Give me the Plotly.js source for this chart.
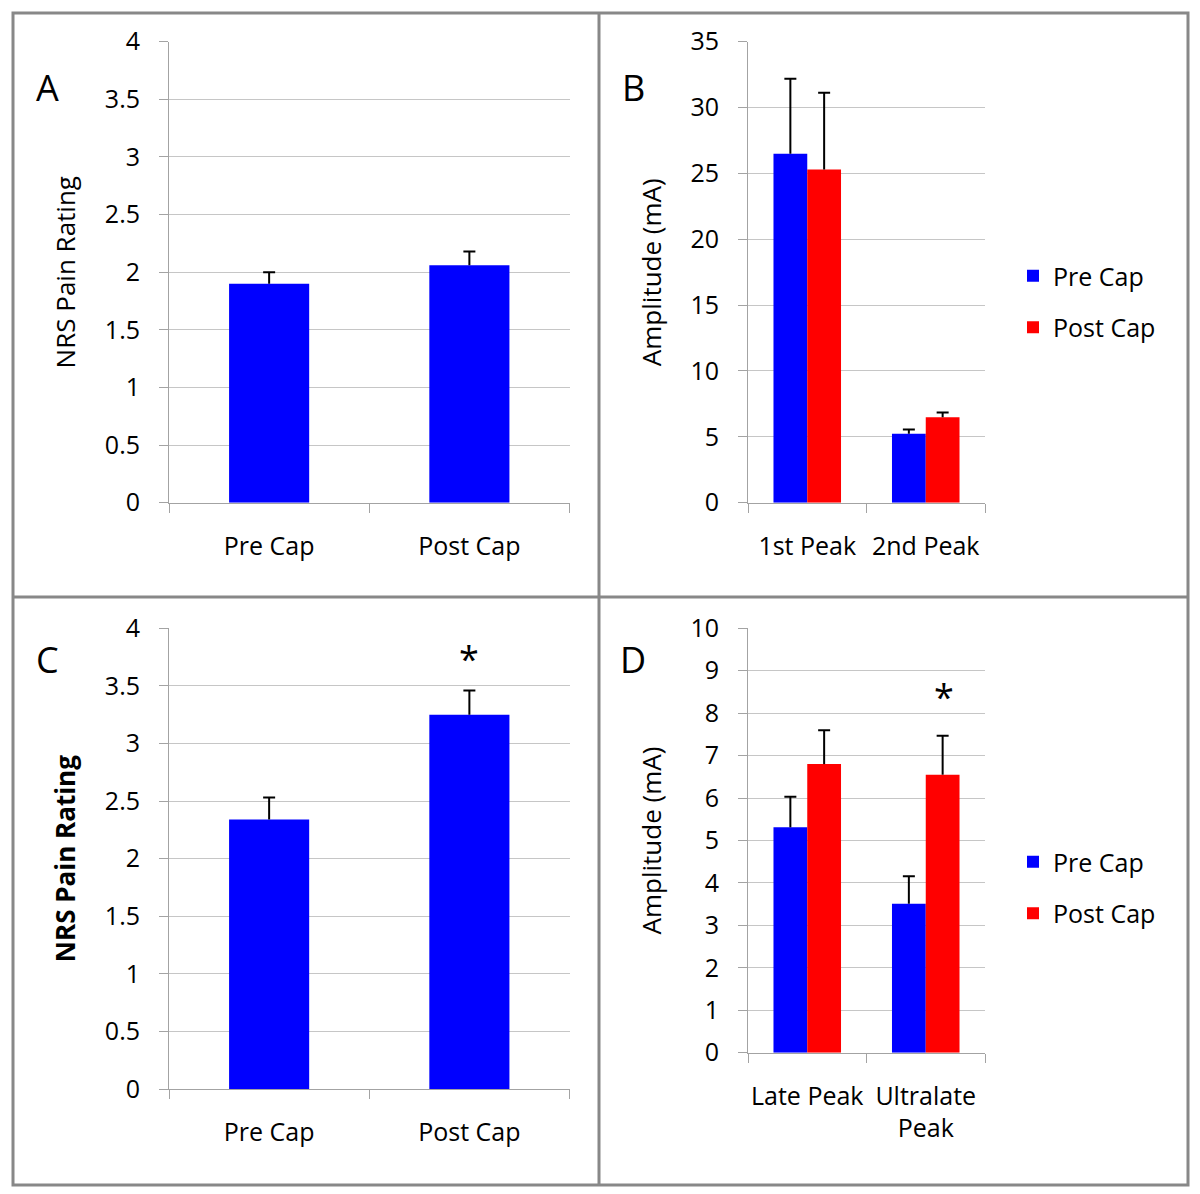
<!DOCTYPE html>
<html>
<head>
<meta charset="utf-8">
<script src="https://cdn.plot.ly/plotly-3.0.1.min.js"></script>
<style>
  html, body { margin: 0; padding: 0; background: #fff; }
  #chart { width: 1200px; height: 1194px; }
</style>
</head>
<body>
<div id="chart"></div>
<script>
// categories
var nrsCats = ["Pre Cap", "Post Cap"];
var earlyCats = ["1st Peak", "2nd Peak"];
var lateCats = ["Late Peak", "Ultralate<br>Peak"];

// A: NRS pain rating (mean, upper error)
var aMean = [1.90, 2.06];
var aErr = [0.10, 0.12];

// B: amplitude of 1st / 2nd peak
var bPre = [26.5, 5.24];
var bPreErr = [5.68, 0.32];
var bPost = [25.3, 6.49];
var bPostErr = [5.82, 0.35];

// C: NRS pain rating
var cMean = [2.34, 3.25];
var cErr = [0.19, 0.21];

// D: amplitude of late / ultralate peak
var dPre = [5.31, 3.51];
var dPreErr = [0.72, 0.65];
var dPost = [6.80, 6.55];
var dPostErr = [0.80, 0.92];

// significance marks
var cStar = 3.79;
var dStar = 8.54;

var BLUE = "#0000ff", RED = "#ff0000", GRID = "#c6c6c6", AXIS = "#a3a3a3";
var FONT = "Open Sans, sans-serif";

function fx(p) { return p / 1200; }
function fy(p) { return 1 - p / 1194; }

// bar with a plain stem going up, no caps (excel-style one sided error bar)
function bar(x, y, err, color, xa, ya, group, extra) {
  var t = {
    type: "bar", x: x, y: y, xaxis: xa, yaxis: ya, offsetgroup: group,
    marker: {color: color},
    error_y: {type: "data", symmetric: false, array: err,
              arrayminus: err.map(function () { return 0; }),
              color: "#000", thickness: 2, width: 0},
    showlegend: false
  };
  return Object.assign(t, extra || {});
}

// invisible bar at the top of the error range, only used to draw the cap
function cap(x, y, err, xa, ya, group, width) {
  var top = y.map(function (v, i) { return v + err[i]; });
  var t = {
    type: "bar", x: x, y: top, xaxis: xa, yaxis: ya, offsetgroup: group,
    marker: {color: "rgba(0,0,0,0)"},
    error_y: {type: "data", array: err.map(function () { return 0; }),
              color: "#000", thickness: 2, width: 6},
    showlegend: false, hoverinfo: "skip"
  };
  if (width) t.width = width;
  return t;
}

function xAx(dom, anchor) {
  return {
    domain: dom, anchor: anchor, type: "category",
    showgrid: false, showline: true, linecolor: AXIS, linewidth: 1,
    ticks: "outside", tickson: "boundaries", ticklen: 9, tickcolor: AXIS,
    tickangle: 0, ticklabelstandoff: 21, tickfont: {size: 25}
  };
}

function yAx(dom, anchor, range, dtick, title, bold) {
  return {
    domain: dom, anchor: anchor, range: range, tickmode: "linear", tick0: 0, dtick: dtick,
    showgrid: true, gridcolor: GRID, gridwidth: 1, zeroline: false,
    showline: true, linecolor: AXIS, linewidth: 1,
    ticks: "outside", ticklen: 9, tickcolor: AXIS,
    ticklabelstandoff: 14, tickfont: {size: 25},
    title: {text: title, standoff: 21, font: {size: 26, weight: bold ? "bold" : "normal"}}
  };
}

var data = [
  bar(nrsCats, aMean, aErr, BLUE, "x", "y", "a", {width: 0.4}),
  cap(nrsCats, aMean, aErr, "x", "y", "a", 0.4),

  bar(earlyCats, bPre, bPreErr, BLUE, "x2", "y2", "pre",
      {name: "Pre Cap", showlegend: true, legend: "legend", legendgroup: "pre"}),
  bar(earlyCats, bPost, bPostErr, RED, "x2", "y2", "post",
      {name: "Post Cap", showlegend: true, legend: "legend", legendgroup: "post"}),
  cap(earlyCats, bPre, bPreErr, "x2", "y2", "pre"),
  cap(earlyCats, bPost, bPostErr, "x2", "y2", "post"),

  bar(nrsCats, cMean, cErr, BLUE, "x3", "y3", "c", {width: 0.4}),
  cap(nrsCats, cMean, cErr, "x3", "y3", "c", 0.4),

  bar(lateCats, dPre, dPreErr, BLUE, "x4", "y4", "pre",
      {name: "Pre Cap", showlegend: true, legend: "legend2", legendgroup: "pre2"}),
  bar(lateCats, dPost, dPostErr, RED, "x4", "y4", "post",
      {name: "Post Cap", showlegend: true, legend: "legend2", legendgroup: "post2"}),
  cap(lateCats, dPre, dPreErr, "x4", "y4", "pre"),
  cap(lateCats, dPost, dPostErr, "x4", "y4", "post")
];

var legendStyle = {
  xanchor: "left", yanchor: "top", font: {size: 25}, tracegroupgap: 16,
  bgcolor: "rgba(0,0,0,0)"
};

var letterFont = {size: 36};

var layout = {
  width: 1200, height: 1194,
  margin: {l: 0, r: 0, t: 0, b: 0},
  paper_bgcolor: "#fff", plot_bgcolor: "#fff",
  font: {family: FONT, size: 25, color: "#000"},
  barmode: "group", bargap: 0.43, bargroupgap: 0,
  xaxis: xAx([fx(169), fx(569.5)], "y"),
  yaxis: yAx([fy(502.7), fy(41.7)], "x", [0, 4], 0.5, "NRS Pain Rating", false),
  xaxis2: xAx([fx(748), fx(985)], "y2"),
  yaxis2: yAx([fy(502.7), fy(41.7)], "x2", [0, 35], 5, "Amplitude (mA)", false),
  xaxis3: xAx([fx(169), fx(569.5)], "y3"),
  yaxis3: yAx([fy(1089), fy(628.3)], "x3", [0, 4], 0.5, "NRS Pain Rating", true),
  xaxis4: xAx([fx(748), fx(985)], "y4"),
  yaxis4: yAx([fy(1052.7), fy(628.3)], "x4", [0, 10], 1, "Amplitude (mA)", false),
  legend: Object.assign({x: fx(1013), y: fy(253)}, legendStyle),
  legend2: Object.assign({x: fx(1013), y: fy(839)}, legendStyle),
  shapes: [
    {type: "rect", xref: "paper", yref: "paper", x0: fx(13), x1: fx(1188), y0: fy(1185), y1: fy(13),
     line: {color: "#888", width: 3}},
    {type: "line", xref: "paper", yref: "paper", x0: fx(599), x1: fx(599), y0: fy(1185), y1: fy(13),
     line: {color: "#888", width: 3}},
    {type: "line", xref: "paper", yref: "paper", x0: fx(13), x1: fx(1188), y0: fy(597), y1: fy(597),
     line: {color: "#888", width: 3}}
  ],
  annotations: [
    {text: "A", xref: "paper", yref: "paper", x: fx(47), y: fy(88), xanchor: "center", yanchor: "middle",
     showarrow: false, font: letterFont},
    {text: "B", xref: "paper", yref: "paper", x: fx(633), y: fy(88), xanchor: "center", yanchor: "middle",
     showarrow: false, font: letterFont},
    {text: "C", xref: "paper", yref: "paper", x: fx(47), y: fy(660), xanchor: "center", yanchor: "middle",
     showarrow: false, font: letterFont},
    {text: "D", xref: "paper", yref: "paper", x: fx(633), y: fy(660), xanchor: "center", yanchor: "middle",
     showarrow: false, font: letterFont},
    {text: "*", xref: "x3", yref: "y3", x: nrsCats[1], y: cStar, showarrow: false,
     font: {size: 36}, yshift: -6},
    {text: "*", xref: "x4", yref: "y4", x: lateCats[1], y: dStar, xshift: 18, showarrow: false,
     font: {size: 36}, yshift: -6}
  ]
};

Plotly.newPlot("chart", data, layout, {staticPlot: true});
</script>
</body>
</html>
